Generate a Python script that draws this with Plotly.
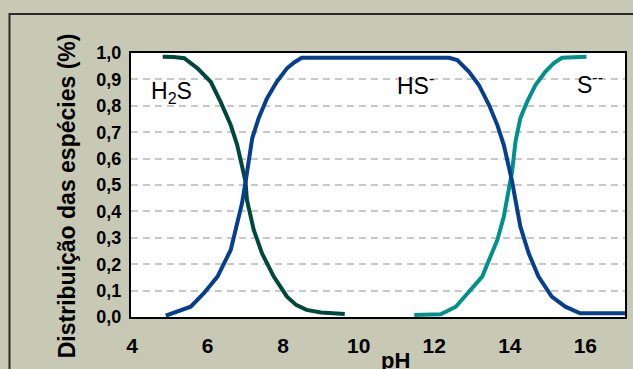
import plotly.graph_objects as go

# Sulfide speciation vs pH (fraction of each species)
ph_h2s = [4.81, 5.10, 5.38, 5.73, 6.08, 6.34, 6.61, 6.78, 7.00, 7.04, 7.22, 7.44, 7.75, 8.10, 8.35, 8.62,
          9.00, 9.24, 9.63]
frac_h2s = [0.986, 0.985, 0.980, 0.942, 0.891, 0.816, 0.727, 0.652, 0.515, 0.443, 0.330, 0.241, 0.153,
            0.077, 0.045, 0.027, 0.017, 0.014, 0.011]

ph_hs = [4.89, 5.20, 5.55, 5.90, 6.26, 6.61, 6.78, 6.91, 7.00, 7.18, 7.35, 7.57, 7.83, 8.10, 8.30, 8.49,
         12.39, 12.61, 12.92, 13.18, 13.45, 13.67, 13.84, 13.97, 14.06, 14.15, 14.28, 14.50, 14.76,
         15.11, 15.47, 15.86, 17.05]
frac_hs = [0.005, 0.020, 0.039, 0.090, 0.153, 0.254, 0.355, 0.431, 0.509, 0.677, 0.753, 0.828, 0.891,
           0.942, 0.965, 0.982,
           0.982, 0.973, 0.929, 0.879, 0.803, 0.727, 0.652, 0.576, 0.515, 0.443, 0.342, 0.241, 0.153,
           0.077, 0.039, 0.014, 0.014]

ph_s = [11.47, 12.17, 12.57, 12.97, 13.27, 13.45, 13.67, 13.84, 13.97, 14.01, 14.06, 14.15, 14.28, 14.46,
        14.68, 14.94, 15.16, 15.38, 16.03]
frac_s = [0.008, 0.010, 0.039, 0.102, 0.153, 0.216, 0.292, 0.380, 0.481, 0.519, 0.550, 0.664, 0.753, 0.816,
          0.879, 0.929, 0.961, 0.982, 0.986]

x_ticks = [4, 6, 8, 10, 12, 14, 16]
y_ticks = [0.0, 0.1, 0.2, 0.3, 0.4, 0.5, 0.6, 0.7, 0.8, 0.9, 1.0]
y_tick_labels = ["0,0", "0,1", "0,2", "0,3", "0,4", "0,5", "0,6", "0,7", "0,8", "0,9", "1,0"]

W, H = 633, 369
L, R, T, B = 131, 6, 53, 52
pw, ph = W - L - R, H - T - B


def px(xp):
    return (xp - L) / pw


def py(yp):
    return (H - B - yp) / ph


fig = go.Figure()
fig.add_trace(go.Scatter(x=ph_h2s, y=frac_h2s, mode="lines", line=dict(color="#00483E", width=4)))
fig.add_trace(go.Scatter(x=ph_s, y=frac_s, mode="lines", line=dict(color="#00918C", width=4)))
fig.add_trace(go.Scatter(x=ph_hs, y=frac_hs, mode="lines", line=dict(color="#053F8E", width=4)))

fig.update_layout(
    width=W, height=H,
    margin=dict(l=L, r=R, t=T, b=B),
    paper_bgcolor="#C8C9B4",
    plot_bgcolor="white",
    showlegend=False,
    font=dict(family="Arial, Liberation Sans, sans-serif", color="black"),
    xaxis=dict(
        range=[3.97, 17.05], tickvals=x_ticks, showgrid=False, zeroline=False,
        showline=True, mirror=True, linecolor="black", linewidth=2, ticks="",
        tickfont=dict(size=21, weight="bold"), ticklabelstandoff=9,
    ),
    yaxis=dict(
        range=[0, 1], tickvals=y_ticks, ticktext=y_tick_labels, zeroline=False,
        showgrid=True, gridcolor="#C8C8C8", gridwidth=1.5, griddash="7px,5px",
        showline=True, mirror=True, linecolor="black", linewidth=2, ticks="",
        tickfont=dict(size=18, weight="bold"), ticklabelstandoff=4,
    ),
    shapes=[
        dict(type="rect", xref="paper", yref="paper",
             x0=px(9), x1=px(W + 20), y0=py(H + 20), y1=py(14),
             line=dict(color="#2A2A2A", width=2), fillcolor="rgba(0,0,0,0)", layer="below"),
    ],
    annotations=[
        dict(text="H<sub>2</sub>S", x=px(149), y=py(92), xref="paper", yref="paper",
             xanchor="left", yanchor="middle", showarrow=False, font=dict(size=23)),
        dict(text="HS<sup>-</sup>", x=px(396), y=py(84), xref="paper", yref="paper",
             xanchor="left", yanchor="middle", showarrow=False, font=dict(size=23)),
        dict(text="S<sup>--</sup>", x=px(577), y=py(83), xref="paper", yref="paper",
             xanchor="left", yanchor="middle", showarrow=False, font=dict(size=23)),
        dict(text="pH", x=px(397), y=py(346), xref="paper", yref="paper",
             xanchor="center", yanchor="top", showarrow=False, font=dict(size=22, weight="bold")),
        dict(text="Distribuição das espécies (%)", x=px(67), y=py(196), xref="paper", yref="paper",
             xanchor="center", yanchor="middle", textangle=-90, showarrow=False,
             font=dict(size=23, weight="bold")),
    ],
)

fig.write_html("out.html")
